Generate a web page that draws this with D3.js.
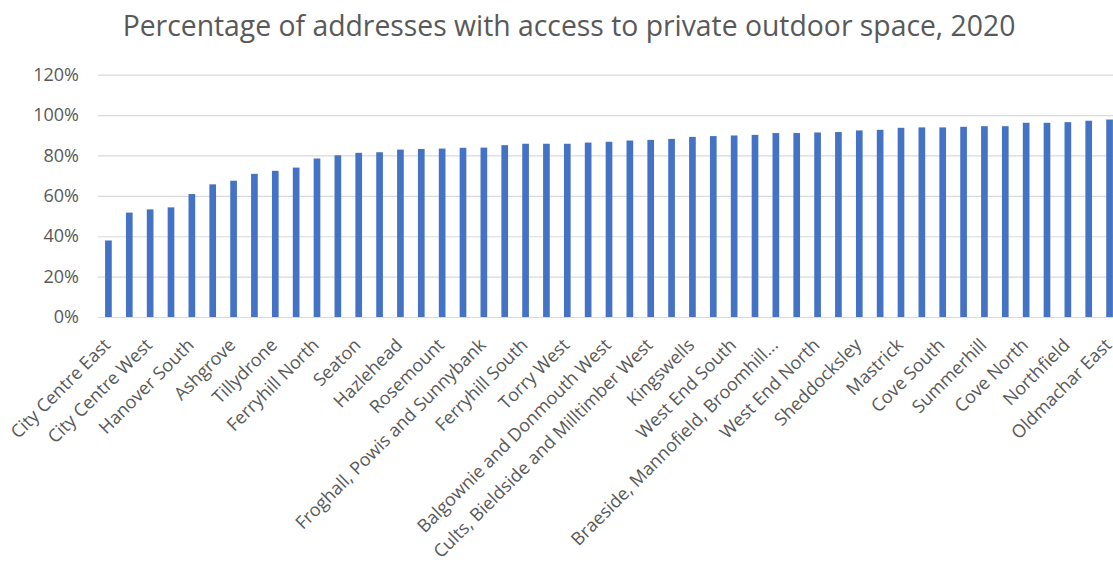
<!DOCTYPE html>
<html>
<head>
<meta charset="utf-8">
<script src="https://cdn.jsdelivr.net/npm/d3@7"></script>
<style>
  html, body { margin: 0; padding: 0; background: #ffffff; overflow: hidden; }
  svg { display: block; font-family: "Open Sans", "Noto Sans", sans-serif; }
</style>
</head>
<body>
<svg id="chart" width="1113" height="566"></svg>
<script>
// Neighbourhoods, ordered from lowest to highest share
const neighbourhoods = [
  "City Centre East", "Hanover North", "City Centre West", "Midstocket",
  "Hanover South", "Old Aberdeen", "Ashgrove", "Woodside",
  "Tillydrone", "Kittybrewster", "Ferryhill North", "Torry East",
  "Seaton", "Stockethill", "Hazlehead", "Hilton",
  "Rosemount", "Garthdee", "Froghall, Powis and Sunnybank", "Heathryfold",
  "Ferryhill South", "Middlefield", "Torry West", "Cummings Park",
  "Balgownie and Donmouth West", "Kincorth, Leggart and Nigg South", "Cults, Bieldside and Milltimber West", "Danestone",
  "Kingswells", "Airyhall, Broomhill and Garthdee", "West End South", "Culter",
  "Braeside, Mannofield, Broomhill and Seafield", "Denmore", "West End North", "Bucksburn South",
  "Sheddocksley", "Dyce", "Mastrick", "Kincorth, Leggart and Nigg North",
  "Cove South", "Balgownie and Donmouth East", "Summerhill", "Cults, Bieldside and Milltimber East",
  "Cove North", "Bucksburn North", "Northfield", "Oldmachar West",
  "Oldmachar East"
];

// Share of addresses with access to private outdoor space (%)
const outdoorSpaceShare = [
  37.9, 51.7, 53.3, 54.3, 60.9, 65.7, 67.5, 70.9,
  72.4, 74.0, 78.5, 80.1, 81.3, 81.6, 82.9, 83.2,
  83.4, 83.8, 83.9, 85.1, 85.8, 85.8, 85.8, 86.4,
  86.8, 87.4, 87.7, 88.2, 89.2, 89.6, 89.9, 90.2,
  91.1, 91.1, 91.4, 91.6, 92.4, 92.7, 93.7, 93.9,
  93.9, 94.2, 94.5, 94.5, 96.2, 96.2, 96.5, 97.2,
  97.8
];

const yTicks = [0, 20, 40, 60, 80, 100, 120];
const chartTitle = "Percentage of addresses with access to private outdoor space, 2020";

const svg = d3.select("#chart");
const textColor = "#595959";

const plot = { left: 98, right: 1120, top: 74.7, bottom: 317 };

const x = d3.scaleBand()
  .domain(neighbourhoods)
  .range([plot.left, plot.right])
  .paddingInner(0.68)
  .paddingOuter(0.34);

const y = d3.scaleLinear()
  .domain([0, 120])
  .range([plot.bottom, plot.top]);

// Title, sized to span the chart
const title = svg.append("text")
  .attr("x", 569)
  .attr("y", 36)
  .attr("text-anchor", "middle")
  .attr("fill", textColor)
  .style("font-size", "28px")
  .text(chartTitle);
const tw = title.node().getComputedTextLength();
title.style("font-size", (28 * 893 / tw) + "px");

// Horizontal gridlines and percentage labels
const yAxis = d3.axisLeft(y)
  .tickValues(yTicks)
  .tickSize(-(plot.right - plot.left))
  .tickPadding(19)
  .tickFormat(d => d + "%");

const yg = svg.append("g")
  .attr("transform", `translate(${plot.left},0)`)
  .call(yAxis);
yg.select(".domain").remove();
yg.selectAll(".tick line")
  .attr("stroke", "#d9d9d9")
  .attr("stroke-width", 1.2);
yg.selectAll(".tick text")
  .attr("fill", textColor)
  .style("font-size", "18px")
  .style("font-family", "'Open Sans', sans-serif");

// Bars
svg.append("g")
  .selectAll("rect")
  .data(neighbourhoods.map((n, i) => ({ name: n, value: outdoorSpaceShare[i] })))
  .join("rect")
  .attr("x", d => x(d.name))
  .attr("width", x.bandwidth())
  .attr("y", d => y(d.value))
  .attr("height", d => y(0) - y(d.value))
  .attr("fill", "#4472c4");

// Category labels on every other bar, rotated
const shortLabel = s => s.length > 36 ? s.slice(0, 31) + "..." : s;
const xAxis = d3.axisBottom(x)
  .tickValues(neighbourhoods.filter((d, i) => i % 2 === 0))
  .tickSize(0)
  .tickFormat(shortLabel);

const xg = svg.append("g")
  .attr("transform", `translate(0,${plot.bottom})`)
  .call(xAxis);
xg.select(".domain").remove();
xg.selectAll(".tick text")
  .attr("fill", textColor)
  .style("font-size", "18px")
  .style("font-family", "'Open Sans', sans-serif")
  .attr("text-anchor", "end")
  .attr("x", 0)
  .attr("y", 0)
  .attr("dy", "0.72em")
  .attr("transform", "translate(-6,20) rotate(-45)");
</script>
</body>
</html>
